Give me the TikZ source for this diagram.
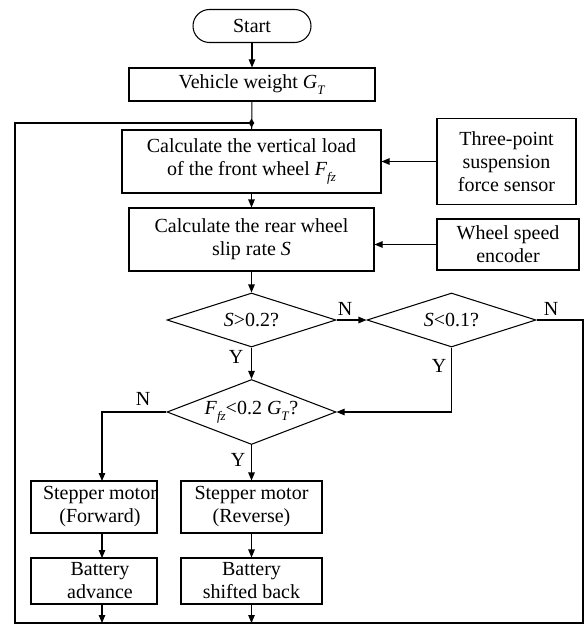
\documentclass[tikz,border=0pt]{standalone}
\usepackage{fontspec}
\setmainfont{Liberation Serif}
\usetikzlibrary{arrows.meta,shapes.geometric}
\newcommand{\itsub}[2]{\textit{#1}\raisebox{-0.28em}{\fontsize{13}{13}\selectfont\textit{#2}}}
\newcommand{\shiftln}{\hspace*{12pt}}
\begin{document}
\begin{tikzpicture}[x=1pt,y=-1pt,
  font=\fontsize{20}{23}\selectfont,
  line width=1.05pt,
  >={Triangle[length=8pt,width=6.5pt]},
  box/.style={draw, rectangle, inner sep=0pt, align=center},
  dec/.style={draw, diamond, aspect=3.1, inner sep=0pt, minimum width=169pt},
  lbl/.style={inner sep=2pt},
  jdot/.style={fill, diamond, inner sep=0pt, minimum width=6pt, minimum height=9pt}]
\useasboundingbox (0,0) rectangle (584,626);
\node[box, rounded corners=16.5pt, minimum width=118pt, minimum height=33pt] (start) at (252,26) {Start};
\node[box, minimum width=246pt, minimum height=33pt] (vw) at (252,84.5) {Vehicle weight \itsub{G}{T}};
\node[box, minimum width=259pt, minimum height=63pt] (calc1) at (251.5,161.5) {Calculate the vertical load\\of the front wheel \itsub{F}{fz}};
\node[box, minimum width=139pt, minimum height=86pt] (sensor) at (506.5,161.5) {Three-point\\suspension\\force sensor};
\node[box, minimum width=245pt, minimum height=63pt] (calc2) at (251.5,239.5) {Calculate the rear wheel\\slip rate \textit{S}};
\node[box, minimum width=142pt, minimum height=51pt] (enc) at (508,244.5) {Wheel speed\\encoder};
\node[dec, minimum height=54pt] (d1) at (251.5,320) {\textit{S}>0.2?};
\node[dec, minimum height=54pt] (d2) at (451.5,320) {\textit{S}<0.1?};
\node[dec, minimum height=65pt] (d3) at (251.5,412) {\itsub{F}{fz}<0.2 \itsub{G}{T}?};
\node[box, minimum width=126pt, minimum height=52pt] (fw) at (94,507) {\shiftln Stepper motor\\\shiftln(Forward)};
\node[box, minimum width=141pt, minimum height=52pt] (rv) at (251.5,507) {Stepper motor\\(Reverse)};
\node[box, minimum width=126pt, minimum height=46pt] (ba) at (94,581) {\shiftln Battery\\\shiftln advance};
\node[box, minimum width=141pt, minimum height=46pt] (bs) at (251.5,581) {Battery\\shifted back};
\node[jdot] (j) at (251.5,123) {};
\coordinate (rtop) at (583,320);
\coordinate (rbot) at (583,623);
\coordinate (lbot) at (15,623);
\coordinate (ltop) at (15,123);
\coordinate (nl) at (102,412);
\coordinate (fwtop) at (102,481);
\coordinate (fwbot) at (102,533);
\coordinate (batop) at (102,558);
\coordinate (babot) at (102,604);
\coordinate (baend) at (102,623);
\coordinate (bsend) at (251.5,623);
\draw[->] (start) -- (vw);
\draw (vw) -- (calc1);
\draw[->] (sensor.west) -- (calc1.east |- sensor.west);
\draw[->] (calc1) -- (calc2);
\draw[->] (enc.west) -- (calc2.east |- enc.west);
\draw[->] (calc2) -- (d1);
\draw[->] (d1.east) -- (d2.west);
\node[lbl] (n1) at (345,309) {N};
\draw (d2.east) -- (rtop) -- (rbot) -- (lbot) -- (ltop) -- (j.center);
\node[lbl] (n2) at (551,309) {N};
\draw[->] (d1.south) -- (d3.north);
\node[lbl] (y1) at (236,357) {Y};
\draw[->] (d2.south) -- (d2.south |- d3.east) -- (d3.east);
\node[lbl] (y2) at (439,366) {Y};
\draw[->] (d3.west) -- (nl) -- (fwtop);
\node[lbl] (n3) at (143,399) {N};
\draw[->] (d3.south) -- (rv.north);
\node[lbl] (y3) at (238,460) {Y};
\draw[->] (fwbot) -- (batop);
\draw[->] (rv) -- (bs);
\draw[->] (babot) -- (baend);
\draw[->] (bs) -- (bsend);
\end{tikzpicture}
\end{document}
